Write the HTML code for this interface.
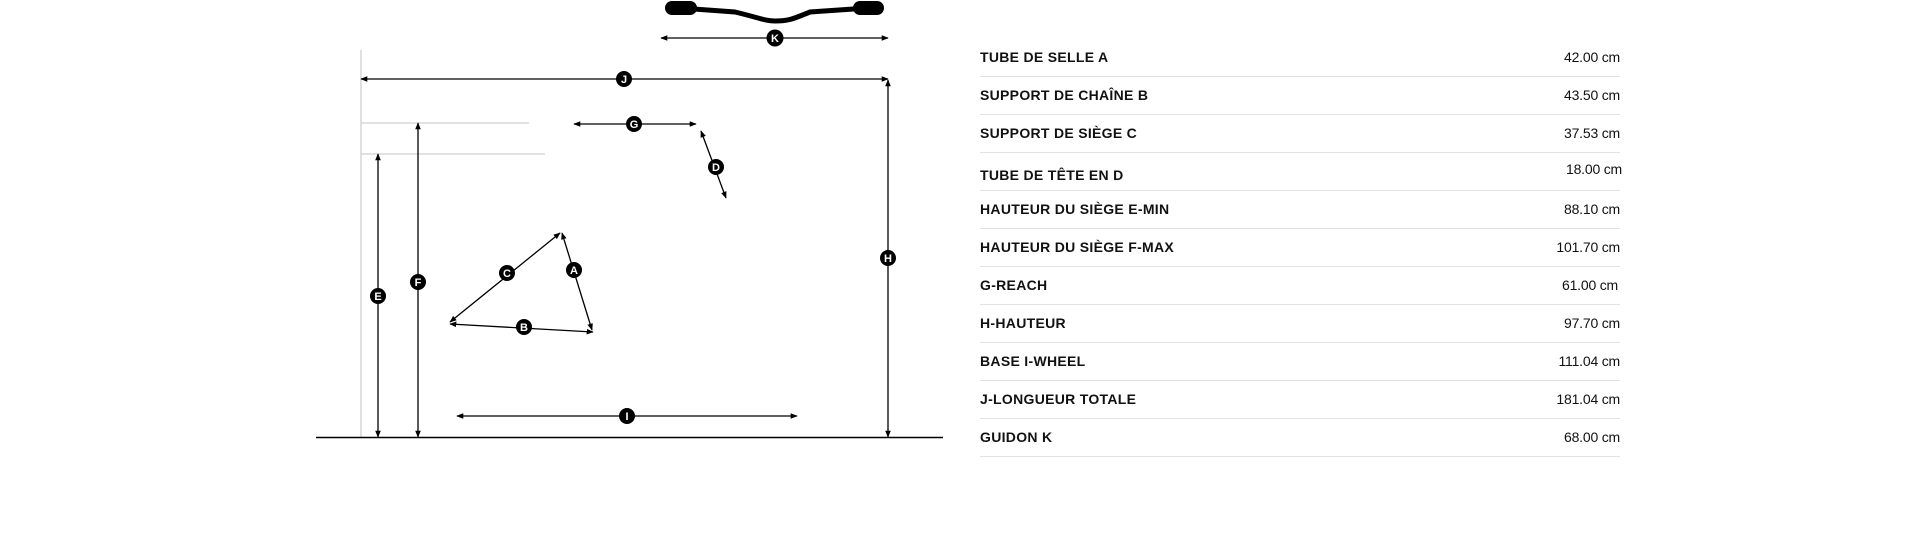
<!DOCTYPE html>
<html><head><meta charset="utf-8"><style>
html,body{margin:0;padding:0;background:#fff;width:1920px;height:535px;overflow:hidden;font-family:"Liberation Sans",sans-serif}
svg{position:absolute;left:0;top:0}
.tbl{position:absolute;left:980px;top:39px;width:640px}
.row{height:38px;border-bottom:1px solid #e2e2e2;position:relative;box-sizing:border-box}
.row .l{position:absolute;left:0;top:10px;font-weight:bold;font-size:14px;letter-spacing:0.3px;color:#111}
.row .v{position:absolute;right:0;top:10px;font-size:14px;color:#111;letter-spacing:-0.2px}
</style></head><body>
<svg width="1920" height="535" viewBox="0 0 1920 535">
<defs>
<marker id="a" viewBox="0 0 10 10" refX="9" refY="5" markerWidth="7" markerHeight="7" orient="auto-start-reverse" markerUnits="userSpaceOnUse"><path d="M0,1 L10,5 L0,9 z" fill="#000"/></marker>
</defs>
<g stroke="#d0d0d0" stroke-width="1.3" fill="none">
<line x1="361" y1="50" x2="361" y2="437"/>
<line x1="361" y1="123" x2="529" y2="123"/>
<line x1="361" y1="154" x2="545" y2="154"/>
</g>
<line x1="316" y1="437.5" x2="943" y2="437.5" stroke="#000" stroke-width="1.6"/>
<path d="M680,8 L735,12 C760,18 765,21 775,21 C790,21 795,18 810,12 L868,8" stroke="#000" stroke-width="5" fill="none" stroke-linecap="round"/>
<rect x="665" y="1" width="32" height="14" rx="7" fill="#000"/>
<rect x="853" y="1" width="31" height="14" rx="7" fill="#000"/>
<g stroke="#000" stroke-width="1.3" fill="none" marker-start="url(#a)" marker-end="url(#a)">
<line x1="661" y1="38" x2="888" y2="38"/>
<line x1="361" y1="79" x2="888" y2="79"/>
<line x1="888" y1="80" x2="888" y2="437"/>
<line x1="574" y1="124" x2="696" y2="124"/>
<line x1="701" y1="131" x2="726" y2="198"/>
<line x1="378" y1="154" x2="378" y2="437"/>
<line x1="418" y1="123" x2="418" y2="437"/>
<line x1="560" y1="233" x2="450" y2="322"/>
<line x1="562" y1="233" x2="592" y2="330"/>
<line x1="450" y1="324" x2="593" y2="332"/>
<line x1="457" y1="416" x2="797" y2="416"/>
</g>
<g fill="#000">
<circle cx="775" cy="38" r="8.5"/><circle cx="624" cy="79" r="8"/><circle cx="888" cy="258" r="8"/>
<circle cx="634" cy="124" r="8"/><circle cx="716" cy="167" r="8"/><circle cx="378" cy="296" r="8"/>
<circle cx="418" cy="282" r="8"/><circle cx="507" cy="273" r="8"/><circle cx="574" cy="270" r="8"/>
<circle cx="524" cy="327" r="8"/><circle cx="627" cy="416" r="8"/>
</g>
<g fill="#fff" font-family="Liberation Sans, sans-serif" font-size="11" text-anchor="middle" font-weight="bold">
<text x="775" y="42">K</text><text x="624" y="83">J</text><text x="888" y="262">H</text>
<text x="634" y="128">G</text><text x="716" y="171">D</text><text x="378" y="300">E</text>
<text x="418" y="286">F</text><text x="507" y="277">C</text><text x="574" y="274">A</text>
<text x="524" y="331">B</text><text x="627" y="420">I</text>
</g>
</svg>
<div class="tbl">
<div class="row"><span class="l">TUBE DE SELLE A</span><span class="v">42.00 cm</span></div>
<div class="row"><span class="l">SUPPORT DE CHAÎNE B</span><span class="v">43.50 cm</span></div>
<div class="row"><span class="l">SUPPORT DE SIÈGE C</span><span class="v">37.53 cm</span></div>
<div class="row"><span class="l" style="top:14px">TUBE DE TÊTE EN D</span><span class="v" style="top:8px;right:-2px">18.00 cm</span></div>
<div class="row"><span class="l">HAUTEUR DU SIÈGE E-MIN</span><span class="v">88.10 cm</span></div>
<div class="row"><span class="l">HAUTEUR DU SIÈGE F-MAX</span><span class="v">101.70 cm</span></div>
<div class="row"><span class="l">G-REACH</span><span class="v" style="right:2px">61.00 cm</span></div>
<div class="row"><span class="l">H-HAUTEUR</span><span class="v">97.70 cm</span></div>
<div class="row"><span class="l">BASE I-WHEEL</span><span class="v">111.04 cm</span></div>
<div class="row"><span class="l">J-LONGUEUR TOTALE</span><span class="v">181.04 cm</span></div>
<div class="row"><span class="l">GUIDON K</span><span class="v">68.00 cm</span></div>
</div>
</body></html>
